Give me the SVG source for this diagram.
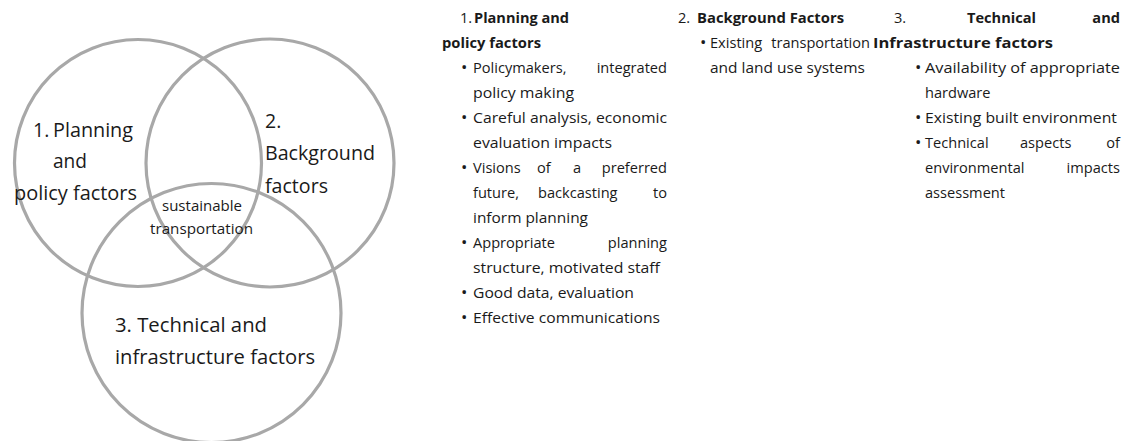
<svg xmlns="http://www.w3.org/2000/svg" width="1126" height="441" viewBox="0 0 1126 441">
  <style>
    .ring { fill: none; stroke: #a8a8a8; stroke-width: 3.2; }
    text { font-family: "Open Sans", "Noto Sans", "DejaVu Sans", sans-serif; fill: #1a1a1a; }
    .big { font-size: 19.5px; }
    .mid { font-size: 14px; }
    .body { font-size: 14.6px; }
    .b { font-weight: 700; }
    .dot { font-size: 17px; }
    .end { text-anchor: end; }
  </style>
  <rect width="1126" height="441" fill="#ffffff"/>

  <!-- Venn diagram: three overlapping rings -->
  <g id="venn">
    <g id="ring-planning">
      <circle class="ring" cx="138" cy="163" r="123.5"/>
      <text class="big" x="33" y="137">1.</text>
      <text class="big" x="53" y="137" textLength="80" lengthAdjust="spacingAndGlyphs">Planning</text>
      <text class="big" x="53" y="168" textLength="34" lengthAdjust="spacingAndGlyphs">and</text>
      <text class="big" x="14" y="200" textLength="123" lengthAdjust="spacingAndGlyphs">policy factors</text>
    </g>
    <g id="ring-background">
      <circle class="ring" cx="270" cy="163" r="124"/>
      <text class="big" x="265" y="128">2.</text>
      <text class="big" x="265" y="160" textLength="110" lengthAdjust="spacingAndGlyphs">Background</text>
      <text class="big" x="265" y="193" textLength="63" lengthAdjust="spacingAndGlyphs">factors</text>
    </g>
    <g id="ring-technical">
      <circle class="ring" cx="211.5" cy="313" r="129.5"/>
      <text class="big" x="115" y="332" textLength="152" lengthAdjust="spacingAndGlyphs">3. Technical and</text>
      <text class="big" x="115" y="364" textLength="200" lengthAdjust="spacingAndGlyphs">infrastructure factors</text>
    </g>
    <g id="centre">
      <text class="mid" x="162" y="211" textLength="80" lengthAdjust="spacingAndGlyphs">sustainable</text>
      <text class="mid" x="150" y="234" textLength="103" lengthAdjust="spacingAndGlyphs">transportation</text>
    </g>
  </g>

  <!-- Column 1: planning and policy factors -->
  <g id="list-planning" class="body">
    <text x="460" y="22.5">1.</text>
    <text class="b" x="474" y="22.5" textLength="95" lengthAdjust="spacingAndGlyphs">Planning and</text>
    <text class="b" x="442" y="47.5" textLength="99" lengthAdjust="spacingAndGlyphs">policy factors</text>

    <text class="dot" x="461" y="73">•</text>
    <text x="473" y="72.5">Policymakers,</text>
    <text class="end" x="667" y="72.5">integrated</text>
    <text x="473" y="97.5" textLength="101" lengthAdjust="spacingAndGlyphs">policy making</text>

    <text class="dot" x="461" y="123">•</text>
    <text x="473" y="122.5" textLength="194" lengthAdjust="spacingAndGlyphs">Careful analysis, economic</text>
    <text x="473" y="147.5" textLength="139" lengthAdjust="spacingAndGlyphs">evaluation impacts</text>

    <text class="dot" x="461" y="173">•</text>
    <text x="473" y="172.5">Visions</text>
    <text x="537" y="172.5">of</text>
    <text x="573" y="172.5">a</text>
    <text class="end" x="667" y="172.5">preferred</text>
    <text x="473" y="197.5">future,</text>
    <text x="538" y="197.5">backcasting</text>
    <text class="end" x="667" y="197.5">to</text>
    <text x="473" y="222.5" textLength="115" lengthAdjust="spacingAndGlyphs">inform planning</text>

    <text class="dot" x="461" y="248">•</text>
    <text x="473" y="247.5">Appropriate</text>
    <text class="end" x="667" y="247.5">planning</text>
    <text x="473" y="272.5" textLength="187" lengthAdjust="spacingAndGlyphs">structure, motivated staff</text>

    <text class="dot" x="461" y="298">•</text>
    <text x="473" y="297.5" textLength="161" lengthAdjust="spacingAndGlyphs">Good data, evaluation</text>

    <text class="dot" x="461" y="323">•</text>
    <text x="473" y="322.5" textLength="187" lengthAdjust="spacingAndGlyphs">Effective communications</text>
  </g>

  <!-- Column 2: background factors -->
  <g id="list-background" class="body">
    <text x="678" y="22.5">2.</text>
    <text class="b" x="697" y="22.5" textLength="147" lengthAdjust="spacingAndGlyphs">Background Factors</text>
    <text class="dot" x="700" y="48">•</text>
    <text x="710" y="47.5">Existing</text>
    <text class="end" x="870" y="47.5">transportation</text>
    <text x="710" y="72.5" textLength="155" lengthAdjust="spacingAndGlyphs">and land use systems</text>
  </g>

  <!-- Column 3: technical and infrastructure factors -->
  <g id="list-technical" class="body">
    <text x="894" y="22.5">3.</text>
    <text class="b" x="967" y="22.5">Technical</text>
    <text class="b end" x="1120" y="22.5">and</text>
    <text class="b" x="873" y="47.5" textLength="180" lengthAdjust="spacingAndGlyphs">Infrastructure factors</text>

    <text class="dot" x="915" y="73">•</text>
    <text x="925" y="72.5" textLength="195" lengthAdjust="spacingAndGlyphs">Availability of appropriate</text>
    <text x="925" y="97.5">hardware</text>

    <text class="dot" x="915" y="123">•</text>
    <text x="925" y="122.5" textLength="192" lengthAdjust="spacingAndGlyphs">Existing built environment</text>

    <text class="dot" x="915" y="148">•</text>
    <text x="925" y="147.5">Technical</text>
    <text x="1020" y="147.5">aspects</text>
    <text class="end" x="1120" y="147.5">of</text>
    <text x="925" y="172.5">environmental</text>
    <text class="end" x="1120" y="172.5">impacts</text>
    <text x="925" y="197.5">assessment</text>
  </g>
</svg>
